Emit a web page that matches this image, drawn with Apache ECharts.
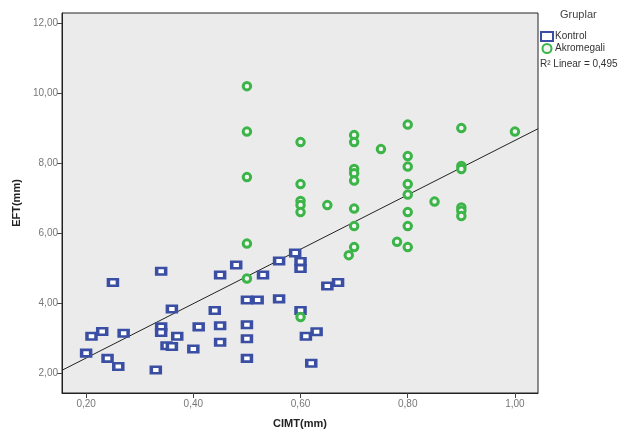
<!DOCTYPE html>
<html>
<head>
<meta charset="utf-8">
<script src="https://cdn.jsdelivr.net/npm/echarts@6/dist/echarts.min.js"></script>
<style>
  html, body { margin: 0; background: #fff; }
  #chart { width: 641px; height: 439px; }
</style>
</head>
<body>
<div id="chart"></div>
<script>
// Kontrol grubu (mavi kareler)
const kontrolX = [0.25, 0.34, 0.36, 0.34, 0.34, 0.37, 0.35, 0.36, 0.27, 0.23, 0.21, 0.20, 0.24, 0.26, 0.33,
  0.48, 0.45, 0.53, 0.56, 0.59, 0.60, 0.60, 0.50, 0.52, 0.56, 0.44, 0.60, 0.41, 0.45, 0.50,
  0.45, 0.50, 0.40, 0.50, 0.61, 0.63, 0.62, 0.65, 0.67];
const kontrolY = [4.59, 4.91, 3.83, 3.32, 3.16, 3.05, 2.78, 2.76, 3.14, 3.19, 3.05, 2.57, 2.42, 2.19, 2.09,
  5.09, 4.80, 4.80, 5.20, 5.43, 5.19, 4.99, 4.09, 4.09, 4.12, 3.79, 3.79, 3.32, 3.35, 3.38,
  2.88, 2.98, 2.69, 2.42, 3.05, 3.18, 2.28, 4.49, 4.59];

// Akromegali grubu (yesil halkalar)
const akroX = [0.50, 0.50, 0.50, 0.50, 0.50, 0.60, 0.60, 0.60, 0.60, 0.60, 0.60, 0.65,
  0.70, 0.70, 0.70, 0.70, 0.70, 0.70, 0.70, 0.70, 0.69, 0.75,
  0.80, 0.80, 0.80, 0.80, 0.80, 0.80, 0.80, 0.80, 0.78, 0.85,
  0.90, 0.90, 0.90, 0.90, 0.90, 0.90, 1.00];
const akroY = [10.20, 8.90, 7.60, 5.70, 4.70, 8.60, 7.40, 6.92, 6.80, 6.60, 3.60, 6.80,
  8.80, 8.60, 7.83, 7.71, 7.50, 6.70, 6.20, 5.60, 5.37, 8.40,
  9.10, 8.20, 7.90, 7.40, 7.10, 6.60, 6.20, 5.60, 5.75, 6.90,
  9.00, 7.92, 7.83, 6.73, 6.64, 6.49, 8.90];

const xTicks = [0.2, 0.4, 0.6, 0.8, 1.0];
const yTicks = [2, 4, 6, 8, 10, 12];
const xRange = [0.155, 1.043];
const yRange = [1.43, 12.29];
const groupTitle = 'Gruplar';
const fitLabel = 'R² Linear = 0,495';

const pairs = (xs, ys) => xs.map((x, i) => [x, ys[i]]);

// dogrusal regresyon (tum noktalar)
const allX = kontrolX.concat(akroX);
const allY = kontrolY.concat(akroY);
const n = allX.length;
const mx = allX.reduce((a, b) => a + b, 0) / n;
const my = allY.reduce((a, b) => a + b, 0) / n;
let sxy = 0, sxx = 0;
for (let i = 0; i < n; i++) {
  sxy += (allX[i] - mx) * (allY[i] - my);
  sxx += (allX[i] - mx) * (allX[i] - mx);
}
const slope = sxy / sxx;
const intercept = my - slope * mx;
const fitLine = xRange.map(x => [x, intercept + slope * x]);

const comma = v => v.toFixed(2).replace('.', ',');
const font = 'Liberation Sans, Arial, sans-serif';

const chart = echarts.init(document.getElementById('chart'));
chart.setOption({
  animation: false,
  textStyle: { fontFamily: font },
  grid: {
    left: 62, right: 103, top: 13, bottom: 46,
    show: true, backgroundColor: '#ebebeb', borderColor: '#222', borderWidth: 1
  },
  xAxis: {
    type: 'value', min: xRange[0], max: xRange[1],
    name: 'CIMT(mm)', nameLocation: 'middle', nameGap: 25,
    nameTextStyle: { fontWeight: 'bold', fontSize: 11, color: '#222' },
    axisLine: { lineStyle: { color: '#222' } },
    axisTick: { customValues: xTicks, length: 5, lineStyle: { color: '#444' } },
    axisLabel: { customValues: xTicks, formatter: comma, color: '#777', fontSize: 10, margin: 6 },
    splitLine: { show: false }
  },
  yAxis: {
    type: 'value', min: yRange[0], max: yRange[1],
    name: 'EFT(mm)', nameLocation: 'middle', nameGap: 38, nameRotate: 90,
    nameTextStyle: { fontWeight: 'bold', fontSize: 11, color: '#222' },
    axisLine: { show: true, lineStyle: { color: '#222' } },
    axisTick: { show: true, customValues: yTicks, length: 5, lineStyle: { color: '#444' } },
    axisLabel: { customValues: yTicks, formatter: comma, color: '#777', fontSize: 10, margin: 4 },
    splitLine: { show: false }
  },
  legend: {
    data: ['Kontrol', 'Akromegali'],
    orient: 'vertical', left: 540, top: 31, padding: 0,
    itemWidth: 12, itemHeight: 9, itemGap: 1,
    textStyle: { fontSize: 10, lineHeight: 10, color: '#333', padding: [0, 0, 0, -3] }
  },
  graphic: [
    { type: 'text', left: 560, top: 9, style: { text: groupTitle, fontSize: 11, fill: '#444', fontFamily: font } },
    { type: 'text', left: 540, top: 59, style: { text: fitLabel, fontSize: 10, fill: '#333', fontFamily: font } }
  ],
  series: [
    {
      name: 'Kontrol', type: 'scatter', symbol: 'rect', symbolSize: [9, 6.5],
      data: pairs(kontrolX, kontrolY),
      itemStyle: { color: '#fff', borderColor: '#3a4fa3', borderWidth: 3, opacity: 1 }
    },
    {
      name: 'Akromegali', type: 'scatter', symbol: 'circle', symbolSize: 7.5,
      data: pairs(akroX, akroY),
      itemStyle: { color: '#f4f4f4', borderColor: '#3cb548', borderWidth: 3, opacity: 1 }
    },
    {
      name: 'fit', type: 'line', data: fitLine, showSymbol: false, silent: true,
      lineStyle: { color: '#222', width: 1 }, z: 1
    }
  ]
});
</script>
</body>
</html>
